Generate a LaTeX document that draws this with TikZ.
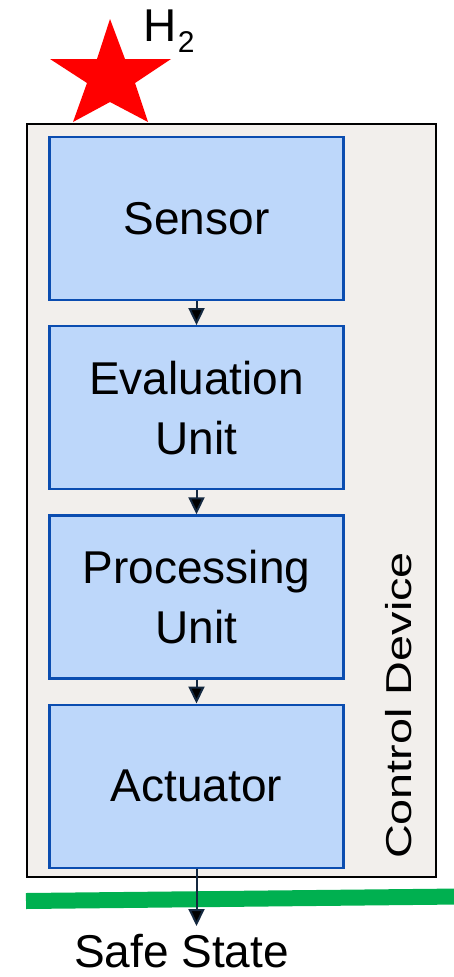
\documentclass[tikz,border=0pt]{standalone}
\usepackage{fontspec}
\setmainfont{Liberation Sans}
\usetikzlibrary{arrows.meta,positioning}
\definecolor{devicegray}{HTML}{F2EFEC}
\definecolor{unitblue}{HTML}{BDD7FA}
\definecolor{unitborder}{HTML}{0B4DB0}
\definecolor{arrownavy}{HTML}{14283F}
\definecolor{safegreen}{HTML}{00B050}
\tikzset{
    %Define standard arrow tip
    >={Triangle[width=16pt,length=17pt]},
    %Define style for the device frame
    device/.style={
           rectangle,
           draw=black, line width=1.6pt,
           fill=devicegray,
           minimum width=409pt,
           minimum height=753pt},
    %Define style for units
    unit/.style={
           rectangle,
           draw=unitborder, line width=2.2pt,
           fill=unitblue,
           minimum width=294pt,
           minimum height=163pt,
           align=center,
           font=\fontsize{46}{60}\selectfont},
    %Define style for plain labels
    tag/.style={
           inner sep=0pt,
           font=\fontsize{46}{46}\selectfont},
    % Define arrow style
    pil/.style={
           ->,
           draw=arrownavy,
           line width=2pt}
}
\begin{document}
\begin{tikzpicture}[x=1pt,y=-1pt,node distance=24pt]
\useasboundingbox (0,0) rectangle (454,977);
 %frame
\node[device](device) at (231.5,500.5){};
\node[rotate=90, inner sep=0pt, font=\fontsize{36}{36}\selectfont](devlabel) at (399,705.5){\scalebox{1.3}[1]{Control Device}};
 %hydrogen
\fill[red] (110,19) -- (125,59) -- (171,59) -- (135,83) -- (148,122) -- (110,102)
    -- (73,122) -- (87,83) -- (50,59) -- (97,59) -- cycle;
\node[tag, anchor=base west](h2) at (143.5,41.7){H\hspace{1pt}\raisebox{-11pt}{\fontsize{30}{30}\selectfont 2}};
 %nodes
\node[unit](sensor) at (196.5,218.5){Sensor};
\node[unit, below=of sensor](eval){Evaluation\\Unit};
\node[unit, below=of eval](proc){Processing\\Unit};
\node[unit, below=of proc](act){Actuator};
 %safe state
\draw[safegreen, line width=16pt] (26,901) -- (460,896.5);
\coordinate (safeend) at (196.5,926);
\node[tag, anchor=base](safe) at (181.5,967.5){Safe State};
\path[pil]
    (sensor) edge (eval)
    (eval) edge (proc)
    (proc) edge (act)
    (act) edge (safeend);
\end{tikzpicture}
\end{document}
